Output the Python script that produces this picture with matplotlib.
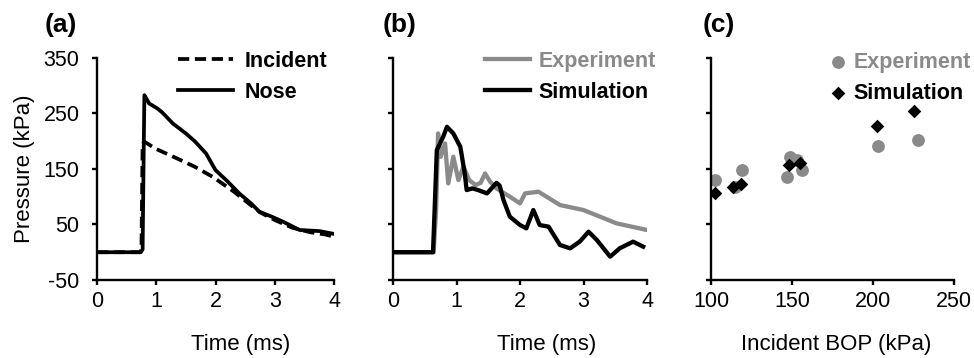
import matplotlib.pyplot as plt

plt.rcParams['font.family'] = ['Liberation Sans', 'DejaVu Sans']
plt.rcParams['axes.unicode_minus'] = False

GRAY = '#8a8a8a'

# (a) incident vs nose pressure
t_inc = [0, 0.72, 0.75, 0.77, 0.8, 1.0, 1.33, 1.65, 1.95, 2.3, 2.63, 2.75, 3.0, 3.3, 3.6, 3.85, 4.0]
p_inc = [0, 0, 5, 195, 199, 186, 170, 154, 136, 110, 82, 72, 58, 44, 36, 32, 28]
t_nose = [0, 0.74, 0.77, 0.79, 0.8, 0.88, 1.02, 1.1, 1.28, 1.5, 1.65, 1.84, 2.0, 2.2, 2.4, 2.6, 2.74,
          2.95, 3.14, 3.42, 3.6, 3.76, 3.9, 4.0]
p_nose = [0, 0, 5, 200, 283, 268, 259, 252, 232, 214, 200, 178, 148, 128, 106, 88, 73,
          64, 55, 40, 39, 38, 35, 33]

# (b) experiment vs simulation
t_exp = [0, 0.64, 0.68, 0.71, 0.75, 0.82, 0.87, 0.95, 1.03, 1.11, 1.2, 1.3, 1.38, 1.45, 1.53,
         1.63, 1.84, 2.0, 2.08, 2.29, 2.63, 3.0, 3.52, 4.0]
p_exp = [0, 0, 80, 214, 172, 196, 124, 172, 130, 154, 130, 121, 125, 142, 127,
         115, 100, 88, 106, 109, 85, 76, 52, 40]
t_sim = [0, 0.63, 0.66, 0.69, 0.79, 0.85, 0.95, 1.06, 1.13, 1.16, 1.25, 1.34, 1.48, 1.63, 1.68,
         1.74, 1.84, 2.0, 2.1, 2.21, 2.31, 2.45, 2.63, 2.79, 2.94, 3.08, 3.21, 3.42, 3.57, 3.78, 3.94]
p_sim = [0, 0, 90, 184, 208, 226, 214, 190, 142, 112, 115, 112, 106, 125, 120,
         94, 64, 49, 43, 76, 49, 46, 13, 7, 19, 37, 22, -8, 7, 19, 10]

# (c) peak pressure vs incident BOP
bop_exp = [102.5, 114.8, 119, 146.7, 148.8, 153, 156, 202.9, 227.6]
peak_exp = [130, 118, 148, 136, 172, 167, 148, 191, 202]
bop_sim = [102.5, 113.8, 118.3, 148.3, 154.8, 202.7, 225.5]
peak_sim = [106, 118, 123, 158, 161, 227, 254]

W, H = 974, 358
fig = plt.figure(figsize=(W / 100, H / 100), dpi=100)
ax_a = fig.add_axes([97 / W, 0.218, 237 / W, 0.62])
ax_b = fig.add_axes([393 / W, 0.218, 254 / W, 0.62])
ax_c = fig.add_axes([711 / W, 0.218, 243 / W, 0.62])

ax_a.plot(t_inc, p_inc, color='black', lw=2.7, ls=(0, (3.0, 1.5)), label='Incident')
ax_a.plot(t_nose, p_nose, color='black', lw=2.7, label='Nose')
ax_b.plot(t_exp, p_exp, color=GRAY, lw=3.1, label='Experiment')
ax_b.plot(t_sim, p_sim, color='black', lw=3.1, label='Simulation')
ax_c.scatter(bop_exp, peak_exp, s=85, color=GRAY, marker='o', lw=0, label='Experiment')
ax_c.scatter(bop_sim, peak_sim, s=48, color='black', marker='D', lw=0, label='Simulation')

for ax in (ax_a, ax_b, ax_c):
    ax.set_ylim(-50, 350)
    ax.set_yticks([-50, 50, 150, 250, 350])
    for s in ('top', 'right'):
        ax.spines[s].set_visible(False)
    for s in ('left', 'bottom'):
        ax.spines[s].set_linewidth(1.7)
    ax.tick_params(direction='out', width=1.7, length=3.6, labelsize=15.5)
    ax.tick_params(axis='y', pad=9)
    ax.tick_params(axis='x', pad=4)

for ax in (ax_a, ax_b):
    ax.set_xlim(0, 4)
    ax.set_xticks([0, 1, 2, 3, 4])
    ax.set_xlabel('Time (ms)', fontsize=16)
    ax.xaxis.set_label_coords(0.605, -0.245)
ax_c.set_xlim(100, 250)
ax_c.set_xticks([100, 150, 200, 250])
ax_c.set_xlabel('Incident BOP (kPa)', fontsize=16)
ax_c.xaxis.set_label_coords(0.515, -0.245)
ax_a.set_ylabel('Pressure (kPa)', fontsize=16)
ax_a.yaxis.set_label_coords(-0.26, 0.5)
ax_b.set_yticklabels([])
ax_c.set_yticklabels([])

for x0, tag in ((45, '(a)'), (383, '(b)'), (703, '(c)')):
    fig.text(x0 / W, 1 - 13 / H, tag, fontsize=19, fontweight='bold', ha='left', va='top')

leg_kw = dict(loc='upper left', frameon=False, prop={'weight': 'bold', 'size': 15.5},
              borderaxespad=0, borderpad=0, labelspacing=0.45)
leg_a = fig.legend(handles=ax_a.get_lines(), bbox_to_anchor=(178 / W, 1 - 51 / H),
                   handlelength=2.55, handletextpad=0.55, **leg_kw)
leg_b = fig.legend(handles=ax_b.get_lines(), bbox_to_anchor=(485 / W, 1 - 51 / H),
                   handlelength=2.1, handletextpad=0.4, **leg_kw)
leg_c = fig.legend(handles=ax_c.collections, bbox_to_anchor=(829 / W, 1 - 52 / H),
                   handlelength=0.8, handletextpad=0.35, **leg_kw)
for leg in (leg_b, leg_c):
    leg.get_texts()[0].set_color(GRAY)

fig.savefig('out.png', dpi=100)
